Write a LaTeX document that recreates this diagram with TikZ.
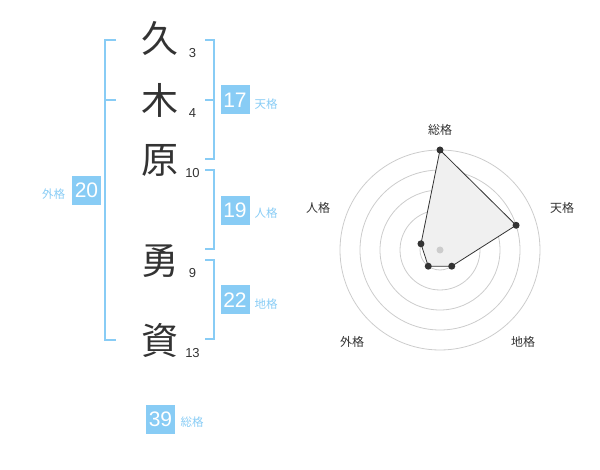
\documentclass[tikz,border=0pt]{standalone}
\usepackage{fontspec}
\setmainfont{Liberation Sans}
\newfontfamily\cjk{Noto Sans CJK JP}
\definecolor{blu}{HTML}{88CCF5}
\definecolor{ink}{HTML}{333333}
\definecolor{ring}{HTML}{CCCCCC}
\definecolor{area}{HTML}{F0F0F0}
\begin{document}
\begin{tikzpicture}[x=1pt,y=-1pt,
  kanji/.style={font=\cjk\fontsize{37}{37}\selectfont, text=ink, inner sep=0pt},
  strk/.style={font=\fontsize{13}{13}\selectfont, text=ink, inner sep=0pt},
  numbox/.style={fill=blu, text=white, minimum size=29pt, inner sep=0pt, font=\fontsize{21}{21}\selectfont},
  lab/.style={font=\cjk\fontsize{11.5}{11.5}\selectfont, text=blu, inner sep=0pt},
  rlab/.style={font=\cjk\fontsize{12}{12}\selectfont, text=ink, inner sep=0pt},
  brk/.style={draw=blu, line width=2pt},
  ringline/.style={draw=ring, line width=0.8pt},
  dot/.style={circle, fill=ink, inner sep=0pt, minimum size=7pt}]
\useasboundingbox (0,0) rectangle (600,470);

% name characters
\node[kanji] (k1) at (160,38) {久};
\node[kanji] (k2) at (160,100) {木};
\node[kanji] (k3) at (160,160) {原};
\node[kanji] (k4) at (160,261) {勇};
\node[kanji] (k5) at (160,340.5) {資};
\node[strk] (n1) at (192.5,53) {3};
\node[strk] (n2) at (192.5,113) {4};
\node[strk] (n3) at (192.5,173) {10};
\node[strk] (n4) at (192.5,273) {9};
\node[strk] (n5) at (192.5,353) {13};

% brackets
\coordinate (g1) at (116,40);
\coordinate (g2) at (116,340);
\coordinate (gm) at (116,100);
\draw[brk] (g1) -| (105,340) -- (g2);
\draw[brk] (105,100) -- (gm);

\coordinate (t1) at (205,40);
\coordinate (t2) at (205,159);
\coordinate (tm) at (205,100);
\draw[brk] (t1) -| (214,159) -- (t2);
\draw[brk] (214,100) -- (tm);

\coordinate (j1) at (205,170);
\coordinate (j2) at (205,249);
\draw[brk] (j1) -| (214,249) -- (j2);

\coordinate (c1) at (205,260);
\coordinate (c2) at (205,339);
\draw[brk] (c1) -| (214,339) -- (c2);

% boxes and labels
\node[numbox] (b17) at (235,100) {17};
\node[lab] (l17) at (266,104.5) {天格};
\node[numbox] (b19) at (235,210.5) {19};
\node[lab] (l19) at (266,213.5) {人格};
\node[numbox] (b22) at (235,300) {22};
\node[lab] (l22) at (266,304) {地格};
\node[numbox] (b20) at (86.5,190.5) {20};
\node[lab] (l20) at (53.5,194) {外格};
\node[numbox] (b39) at (160.5,419) {39};
\node[lab] (l39) at (192,422.5) {総格};

% radar chart
\coordinate (c) at (440,250);
\foreach \r in {20,40,60,80,100} \draw[ringline] (c) circle[radius=\r];
\coordinate (p1) at ([shift={(-90:100)}]c);
\coordinate (p2) at ([shift={(-18:80)}]c);
\coordinate (p3) at ([shift={(54:20)}]c);
\coordinate (p4) at ([shift={(126:20)}]c);
\coordinate (p5) at ([shift={(198:20)}]c);
\draw[fill=area, draw=ink, line width=0.8pt] (p1) -- (p2) -- (p3) -- (p4) -- (p5) -- cycle;
\node[circle, fill=ring, inner sep=0pt, minimum size=7pt] (cd) at (c) {};
\foreach \p in {p1,p2,p3,p4,p5} \node[dot] (d\p) at (\p) {};
\node[rlab] (r1) at (440,130) {総格};
\node[rlab] (r2) at (562,208) {天格};
\node[rlab] (r3) at (523,342) {地格};
\node[rlab] (r4) at (352,342) {外格};
\node[rlab] (r5) at (318,208) {人格};
\end{tikzpicture}
\end{document}
